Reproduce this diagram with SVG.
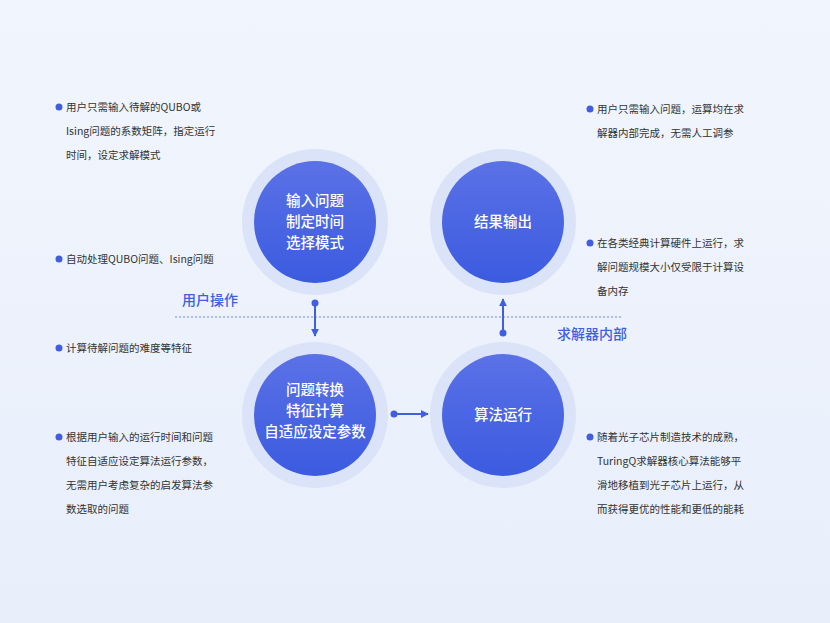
<svg xmlns="http://www.w3.org/2000/svg" width="830" height="623" viewBox="0 0 830 623">
<defs>
<linearGradient id="bg" x1="0" y1="0" x2="0" y2="1"><stop offset="0" stop-color="#f1f5fd"/><stop offset="1" stop-color="#e8effb"/></linearGradient>
<linearGradient id="cg" x1="0" y1="0" x2="0" y2="1"><stop offset="0" stop-color="#5b71e6"/><stop offset="1" stop-color="#3b5be0"/></linearGradient>
<marker id="ah" viewBox="0 0 10 10" refX="9" refY="5" markerWidth="8" markerHeight="8" markerUnits="userSpaceOnUse" orient="auto"><path d="M0,0L10,5L0,10z" fill="#3f5fe0"/></marker>
<style>
.ring{fill:#dbe3f8}.core{fill:url(#cg)}
.ct{font-family:"Noto Sans CJK SC",sans-serif;font-size:14.5px;font-weight:500;fill:#fff;text-anchor:middle}
.tx{font-family:"Noto Sans CJK SC",sans-serif;font-size:10.5px;fill:#333}
.bl{fill:#3f5fe0}
.lb{font-family:"Noto Sans CJK SC",sans-serif;font-size:14px;font-weight:500;fill:#3f5fe0}
.cn{stroke:#3f5fe0;stroke-width:2;fill:none}
</style>
</defs>
<rect width="830" height="623" fill="url(#bg)"/>
<line x1="175" y1="317" x2="623" y2="317" stroke="#6f86e6" stroke-width="1.2" stroke-dasharray="2,2"/>
<text class="lb" x="182" y="305">用户操作</text>
<text class="lb" x="557" y="339">求解器内部</text>
<g id="n1"><circle class="ring" cx="315" cy="222" r="73"/><circle class="core" cx="315" cy="222" r="61"/>
<text class="ct" x="315" y="206">输入问题</text><text class="ct" x="315" y="227">制定时间</text><text class="ct" x="315" y="248">选择模式</text></g>
<g id="n2"><circle class="ring" cx="503" cy="222" r="73"/><circle class="core" cx="503" cy="222" r="61"/>
<text class="ct" x="503" y="227">结果输出</text></g>
<g id="n3"><circle class="ring" cx="315" cy="415" r="73"/><circle class="core" cx="315" cy="415" r="61"/>
<text class="ct" x="315" y="395">问题转换</text><text class="ct" x="315" y="416">特征计算</text><text class="ct" x="315" y="437">自适应设定参数</text></g>
<g id="n4"><circle class="ring" cx="503" cy="415" r="73"/><circle class="core" cx="503" cy="415" r="61"/>
<text class="ct" x="503" y="420">算法运行</text></g>
<g id="connectors">
<circle class="bl" cx="315" cy="303" r="3.5"/><line class="cn" x1="315" y1="303" x2="315" y2="336" marker-end="url(#ah)"/>
<circle class="bl" cx="503" cy="333" r="3.5"/><line class="cn" x1="503" y1="333" x2="503" y2="299" marker-end="url(#ah)"/>
<circle class="bl" cx="394" cy="414" r="3.5"/><line class="cn" x1="394" y1="414" x2="428" y2="414" marker-end="url(#ah)"/>
</g>
<g id="left-notes">
<circle class="bl" cx="59" cy="107" r="3.5"/><text class="tx" x="66" y="111">用户只需输入待解的QUBO或</text>
<text class="tx" x="66" y="135">Ising问题的系数矩阵，指定运行</text><text class="tx" x="66" y="159">时间，设定求解模式</text>
<circle class="bl" cx="59" cy="259" r="3.5"/><text class="tx" x="66" y="263">自动处理QUBO问题、Ising问题</text>
<circle class="bl" cx="59" cy="348" r="3.5"/><text class="tx" x="66" y="352">计算待解问题的难度等特征</text>
<circle class="bl" cx="59" cy="437" r="3.5"/><text class="tx" x="66" y="441">根据用户输入的运行时间和问题</text>
<text class="tx" x="66" y="465">特征自适应设定算法运行参数，</text><text class="tx" x="66" y="489">无需用户考虑复杂的启发算法参</text><text class="tx" x="66" y="513">数选取的问题</text>
</g>
<g id="right-notes">
<circle class="bl" cx="590" cy="109" r="3.5"/><text class="tx" x="597" y="113">用户只需输入问题，运算均在求</text><text class="tx" x="597" y="137">解器内部完成，无需人工调参</text>
<circle class="bl" cx="590" cy="243" r="3.5"/><text class="tx" x="597" y="247">在各类经典计算硬件上运行，求</text>
<text class="tx" x="597" y="271">解问题规模大小仅受限于计算设</text><text class="tx" x="597" y="295">备内存</text>
<circle class="bl" cx="590" cy="437" r="3.5"/><text class="tx" x="597" y="441">随着光子芯片制造技术的成熟，</text>
<text class="tx" x="597" y="465">TuringQ求解器核心算法能够平</text><text class="tx" x="597" y="489">滑地移植到光子芯片上运行，从</text><text class="tx" x="597" y="513">而获得更优的性能和更低的能耗</text>
</g>
</svg>
